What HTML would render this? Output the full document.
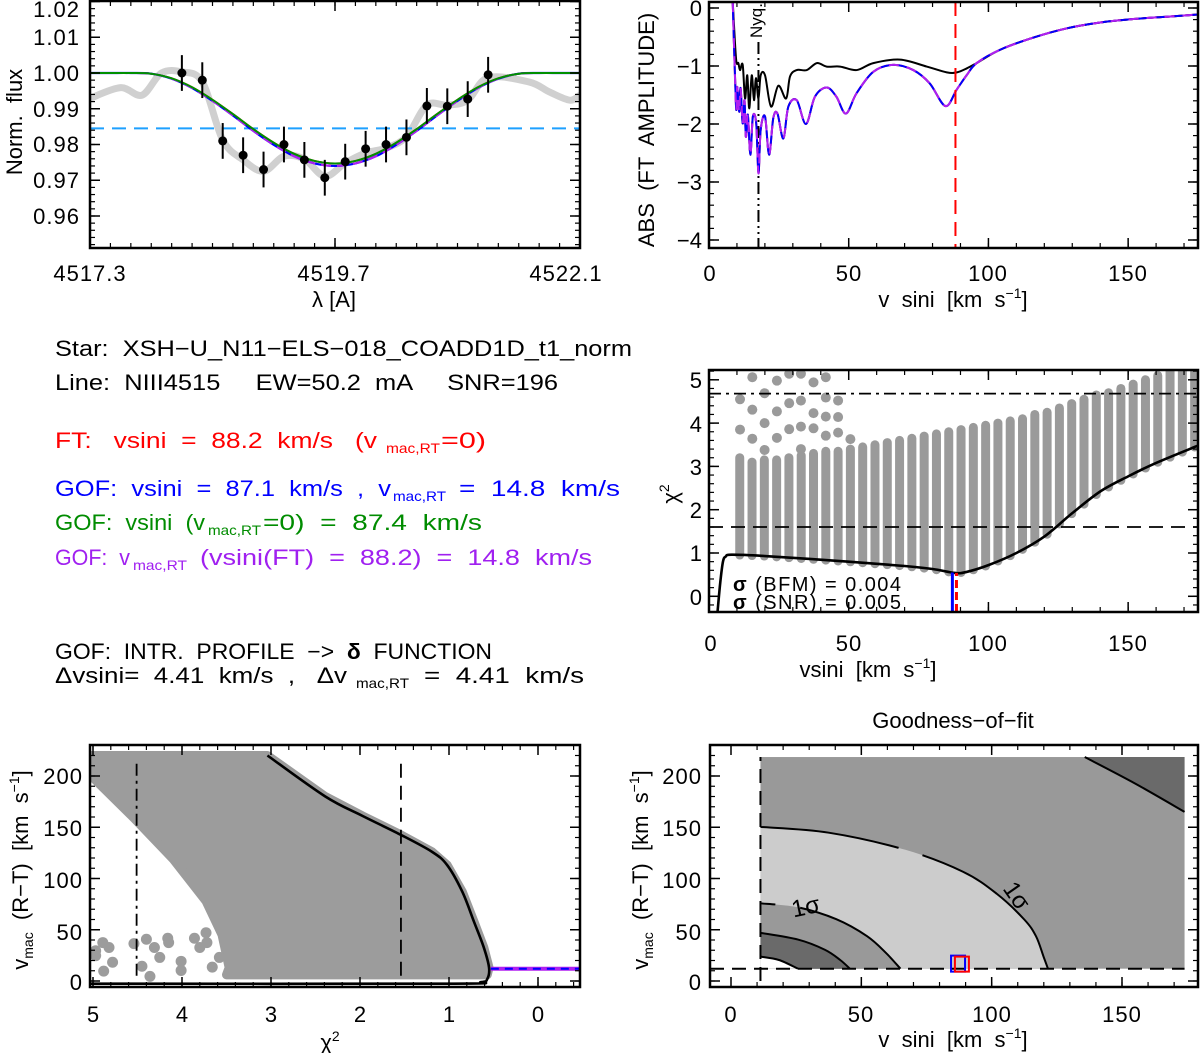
<!DOCTYPE html>
<html><head><meta charset="utf-8"><style>
html,body{margin:0;padding:0;background:#fff;}
svg{display:block;font-family:"Liberation Sans",sans-serif;}
text{font-family:"Liberation Sans","DejaVu Sans",sans-serif;white-space:pre;}
.tk{letter-spacing:1px;}
</style></head><body>
<svg id="fig" width="1200" height="1053" viewBox="0 0 1200 1053" xmlns="http://www.w3.org/2000/svg">
<g id="layer"></g>
<g id="labels" font-size="22" fill="#000">
 <!-- panel 1 -->
 <text class="tk" x="80" y="17" text-anchor="end">1.02</text>
 <text class="tk" x="80" y="45" text-anchor="end">1.01</text>
 <text class="tk" x="80" y="81" text-anchor="end">1.00</text>
 <text class="tk" x="80" y="117" text-anchor="end">0.99</text>
 <text class="tk" x="80" y="152" text-anchor="end">0.98</text>
 <text class="tk" x="80" y="188" text-anchor="end">0.97</text>
 <text class="tk" x="80" y="224" text-anchor="end">0.96</text>
 <text class="tk" x="90" y="281" text-anchor="middle">4517.3</text>
 <text class="tk" x="334" y="281" text-anchor="middle">4519.7</text>
 <text class="tk" x="566" y="281" text-anchor="middle">4522.1</text>
 <text x="334" y="307" text-anchor="middle">λ [A]</text>
 <text transform="translate(22,122) rotate(-90)" text-anchor="middle">Norm.  flux</text>
 <!-- panel 2 -->
 <text x="702" y="16" text-anchor="end">0</text>
 <text x="702" y="74" text-anchor="end">−1</text>
 <text x="702" y="132" text-anchor="end">−2</text>
 <text x="702" y="190" text-anchor="end">−3</text>
 <text x="702" y="248" text-anchor="end">−4</text>
 <text class="tk" x="710" y="281" text-anchor="middle">0</text>
 <text class="tk" x="849" y="281" text-anchor="middle">50</text>
 <text class="tk" x="988" y="281" text-anchor="middle">100</text>
 <text class="tk" x="1128" y="281" text-anchor="middle">150</text>
 <text x="953" y="307" text-anchor="middle">v  sini  [km  s<tspan dy="-9" font-size="14">−1</tspan><tspan dy="9">]</tspan></text>
 <text transform="translate(654,130) rotate(-90)" text-anchor="middle">ABS  (FT  AMPLITUDE)</text>
 <text transform="translate(762,38) rotate(-90)" font-size="17">Nyq.</text>
 <!-- panel 3 -->
 <text x="702" y="388" text-anchor="end">5</text>
 <text x="702" y="432" text-anchor="end">4</text>
 <text x="702" y="475" text-anchor="end">3</text>
 <text x="702" y="518" text-anchor="end">2</text>
 <text x="702" y="561" text-anchor="end">1</text>
 <text x="702" y="605" text-anchor="end">0</text>
 <text class="tk" x="711" y="651" text-anchor="middle">0</text>
 <text class="tk" x="849" y="651" text-anchor="middle">50</text>
 <text class="tk" x="988" y="651" text-anchor="middle">100</text>
 <text class="tk" x="1128" y="651" text-anchor="middle">150</text>
 <text x="868" y="677" text-anchor="middle">vsini  [km  s<tspan dy="-9" font-size="14">−1</tspan><tspan dy="9">]</tspan></text>
 <text transform="translate(678,494) rotate(-90)" text-anchor="middle">χ<tspan dy="-9" font-size="14">2</tspan></text>
 <text x="733" y="591" font-size="20" textLength="168"><tspan font-weight="bold">σ</tspan> (BFM) = 0.004</text>
 <text x="733" y="609" font-size="20" textLength="168"><tspan font-weight="bold">σ</tspan> (SNR) = 0.005</text>
 <!-- info text -->
 <text x="55" y="356" textLength="577" lengthAdjust="spacingAndGlyphs">Star:  XSH−U_N11−ELS−018_COADD1D_t1_norm</text>
 <text x="55" y="390" textLength="503" lengthAdjust="spacingAndGlyphs">Line:  NIII4515     EW=50.2  mA     SNR=196</text>
 <g fill="#ff0000">
  <text x="55" y="448" textLength="322" lengthAdjust="spacingAndGlyphs">FT:   vsini  =  88.2  km/s   (v</text>
  <text x="386" y="453" font-size="14" textLength="54" lengthAdjust="spacingAndGlyphs">mac,RT</text>
  <text x="441" y="448" textLength="45" lengthAdjust="spacingAndGlyphs">=0)</text>
 </g>
 <g fill="#0000ff">
  <text x="55" y="496" textLength="336" lengthAdjust="spacingAndGlyphs">GOF:  vsini  =  87.1  km/s  ,  v</text>
  <text x="393" y="501" font-size="14" textLength="53" lengthAdjust="spacingAndGlyphs">mac,RT</text>
  <text x="459" y="496" textLength="161" lengthAdjust="spacingAndGlyphs">=  14.8  km/s</text>
 </g>
 <g fill="#008c00">
  <text x="55" y="530" textLength="150" lengthAdjust="spacingAndGlyphs">GOF:  vsini  (v</text>
  <text x="208" y="535" font-size="14" textLength="53" lengthAdjust="spacingAndGlyphs">mac,RT</text>
  <text x="263" y="530" textLength="219" lengthAdjust="spacingAndGlyphs">=0)  =  87.4  km/s</text>
 </g>
 <g fill="#a020f0">
  <text x="55" y="565" textLength="75" lengthAdjust="spacingAndGlyphs">GOF:  v</text>
  <text x="133" y="570" font-size="14" textLength="54" lengthAdjust="spacingAndGlyphs">mac,RT</text>
  <text x="200" y="565" textLength="392" lengthAdjust="spacingAndGlyphs">(vsini(FT)  =  88.2)  =  14.8  km/s</text>
 </g>
 <text x="55" y="659" textLength="437" lengthAdjust="spacingAndGlyphs">GOF:  INTR.  PROFILE  −&gt;  <tspan font-weight="bold">δ</tspan>  FUNCTION</text>
 <g>
  <text x="55" y="683" textLength="292" lengthAdjust="spacingAndGlyphs">Δvsini=  4.41  km/s  ,   Δv</text>
  <text x="356" y="688" font-size="14" textLength="53" lengthAdjust="spacingAndGlyphs">mac,RT</text>
  <text x="424" y="683" textLength="160" lengthAdjust="spacingAndGlyphs">=  4.41  km/s</text>
 </g>
 <!-- panel 4 -->
 <text class="tk" x="83" y="784" text-anchor="end">200</text>
 <text class="tk" x="83" y="836" text-anchor="end">150</text>
 <text class="tk" x="83" y="888" text-anchor="end">100</text>
 <text class="tk" x="83" y="940" text-anchor="end">50</text>
 <text class="tk" x="83" y="990" text-anchor="end">0</text>
 <text x="93" y="1022" text-anchor="middle">5</text>
 <text x="182" y="1022" text-anchor="middle">4</text>
 <text x="271" y="1022" text-anchor="middle">3</text>
 <text x="360" y="1022" text-anchor="middle">2</text>
 <text x="449" y="1022" text-anchor="middle">1</text>
 <text x="538" y="1022" text-anchor="middle">0</text>
 <text x="330" y="1050" text-anchor="middle">χ<tspan dy="-9" font-size="14">2</tspan></text>
 <text transform="translate(28,870) rotate(-90)" text-anchor="middle">v<tspan dy="5" font-size="14">mac</tspan><tspan dy="-5">  (R−T)  [km  s</tspan><tspan dy="-9" font-size="14">−1</tspan><tspan dy="9">]</tspan></text>
 <!-- panel 5 -->
 <text x="953" y="728" text-anchor="middle">Goodness−of−fit</text>
 <text class="tk" x="702" y="784" text-anchor="end">200</text>
 <text class="tk" x="702" y="836" text-anchor="end">150</text>
 <text class="tk" x="702" y="888" text-anchor="end">100</text>
 <text class="tk" x="702" y="940" text-anchor="end">50</text>
 <text class="tk" x="702" y="990" text-anchor="end">0</text>
 <text class="tk" x="731" y="1022" text-anchor="middle">0</text>
 <text class="tk" x="861" y="1022" text-anchor="middle">50</text>
 <text class="tk" x="992" y="1022" text-anchor="middle">100</text>
 <text class="tk" x="1122" y="1022" text-anchor="middle">150</text>
 <text x="953" y="1047" text-anchor="middle">v  sini  [km  s<tspan dy="-9" font-size="14">−1</tspan><tspan dy="9">]</tspan></text>
 <text transform="translate(648,870) rotate(-90)" text-anchor="middle">v<tspan dy="5" font-size="14">mac</tspan><tspan dy="-5">  (R−T)  [km  s</tspan><tspan dy="-9" font-size="14">−1</tspan><tspan dy="9">]</tspan></text>
</g>
</svg>
<script>
// ---------- Panel 1 data ----------
const obsLam = [4518.2,4518.4,4518.6,4518.8,4519.0,4519.2,4519.4,4519.6,4519.8,4520.0,4520.2,4520.4,4520.6,4520.8,4521.0,4521.2];
const obsFlux = [1.000,0.998,0.981,0.977,0.973,0.980,0.9757,0.9707,0.9752,0.9788,0.980,0.982,0.9908,0.9907,0.9927,0.9995];
const obsErr = 0.005;
const specLam = [4517.3,4517.6,4517.81,4518.0,4518.2,4518.4,4518.6,4518.8,4519.0,4519.2,4519.4,4519.6,4519.8,4520.0,4520.2,4520.4,4520.6,4520.8,4521.0,4521.2,4521.6,4521.8,4522.0,4522.1];
const specFlux = [0.9929,0.9959,0.9938,1.000,1.0003,0.9975,0.9813,0.9757,0.9725,0.9767,0.9759,0.9711,0.9748,0.9776,0.979,0.9822,0.991,0.991,0.9924,0.9987,0.9975,0.9947,0.9924,0.9938];
const modelLam = [4517.3,4517.5,4517.7,4517.9,4518.1,4518.3,4518.5,4518.7,4518.9,4519.1,4519.3,4519.5,4519.7,4519.9,4520.1,4520.3,4520.5,4520.7,4520.9,4521.1,4521.3,4521.5,4521.7,4521.9,4522.1];
const modelBlue = [1,1,1,0.9998,0.9984,0.9958,0.9922,0.9881,0.9838,0.9799,0.9767,0.9747,0.9740,0.9747,0.9767,0.9799,0.9838,0.9881,0.9922,0.9958,0.9984,0.9998,1,1,1];
const modelGreen = [1,1,1,0.9998,0.9985,0.9960,0.9925,0.9885,0.9843,0.9805,0.9774,0.9754,0.9747,0.9754,0.9774,0.9805,0.9843,0.9885,0.9925,0.9960,0.9985,0.9998,1,1,1];
const noiseLevel = 0.9845;
// ---------- Panel 2 data ----------
const ftBlackV = [8.5,9.67,10.5,11.1,12.06,12.9,13.7,14.4,15.3,16.1,16.8,17.7,18.5,20.05,22.2,24.8,27.6,29.0,31.4,35.0,38.6,42.1,46.9,52.9,58.8,68.4,77.9,85.1,88.7,92.3,95.8,104.2,116.1,128.1,140,151.9,163.9,175.8];
const ftBlackA = [0.1,-0.87,-0.95,-1.07,-0.98,-1.56,-1.16,-1.73,-1.16,-1.59,-1.21,-1.56,-1.16,-1.16,-1.70,-1.34,-1.56,-1.18,-1.07,-1.07,-0.95,-1.01,-1.01,-1.07,-0.95,-0.89,-1.01,-1.11,-1.11,-1.04,-0.95,-0.72,-0.51,-0.35,-0.25,-0.19,-0.15,-0.11];
const ftModelV = [8.5,9.67,10.1,10.8,11.3,12.06,12.7,13.2,13.9,14.8,15.7,16.9,17.7,18.5,20.05,21.5,23.0,24.5,26.6,28.4,31.4,34.7,37.9,42.1,45.6,49.0,52.8,58.8,65.9,73.1,79.0,84.6,88.6,92.2,95.8,104.2,116.1,128.1,140,151.9,163.9,175.8];
const ftModelA = [0.1,-1.70,-1.36,-1.79,-1.38,-1.99,-1.59,-2.22,-1.84,-2.53,-1.87,-1.99,-2.85,-2.10,-1.87,-2.53,-1.90,-1.82,-2.25,-1.70,-1.59,-2.0,-1.53,-1.37,-1.53,-1.82,-1.47,-1.10,-0.98,-1.07,-1.30,-1.69,-1.41,-1.16,-0.95,-0.72,-0.51,-0.35,-0.25,-0.19,-0.15,-0.11];
const nyquistV = 17.7, ftVsini = 88.2;
// ---------- Panel 3 data ----------
const chiCurveV = [3,4,5,6,8,20,50,70,80,88,92,100,110,120,130,140,150,160,175];
const chiCurveC = [-0.4,0.3,0.8,0.92,0.96,0.93,0.80,0.70,0.63,0.54,0.56,0.72,1.0,1.38,1.92,2.42,2.77,3.08,3.48];
const colStart = 11, colStep = 4.4;
const colTops = [3.2,3.1,3.15,3.15,3.2,3.25,3.3,3.35,3.35,3.4,3.45,3.5,3.55,3.6,3.65,3.7,3.75,3.8,3.85,3.9,3.95,4.0,4.05,4.1,4.2,4.25,4.35,4.45,4.55,4.65,4.7,4.8,4.9,5.0,5.1,5.2,5.2,5.2];
const scatV = [15.5,24.3,28.7,32.9,37.4,41.8,11.1,19.9,28.7,32.9,41.8,46.2,15.5,24.3,37.4,41.8,46.2,19.9,11.1,28.7,32.9,37.4,46.2,15.5,24.3,41.8,50.6,19.9,32.9];
const scatC = [5.06,4.98,5.14,5.14,4.94,5.06,4.55,4.69,4.46,4.52,4.59,4.52,4.31,4.27,4.23,4.15,4.14,4.0,3.85,3.86,3.92,3.88,3.78,3.64,3.66,3.71,3.63,3.38,3.4];
const chiLevel1 = 4.68, chiLevel2 = 1.6;
const gofVsini = 87.1;
// ---------- Panel 4 data ----------
const envChi = [5.03,3.04,2.39,1.97,1.55,1.19,1.02,0.85,0.72,0.61,0.55,0.57,0.57,3.5,3.47,3.55,3.73,4.1,4.54,5.03];
const envV = [220,220,180,161,143,126,113,87,58,33,13,6,6,6,13,45,78,119,159,201];
const vmCurveChi = [5.03,1.02,0.64,0.57,0.55,0.61,0.72,0.85,1.02,1.19,1.55,1.97,2.39,3.04];
const vmCurveV = [-2.6,-2.6,-1,2,13,33,58,87,113,126,143,161,180,220];
const bsChi = [4.97,4.89,4.82,4.97,4.78,4.88,4.54,4.45,4.40,4.31,4.36,4.25,4.16,4.15,4.01,4.01,3.86,3.80,3.73,3.72,3.58,3.66];
const bsV = [29.5,37.5,32.7,24.7,18.3,9.6,36.5,14.4,40.7,32.7,4.5,23,41.7,37.5,19.2,10.3,41.7,32.7,47.1,37.5,23,13.5];
const vmacBest = 12;
// ---------- Panel 5 data ----------
const gridV = [11.3,174], gridM = [12,218.5];
const lightV = [11.3,37.5,66.9,89,102,112.5,117,119.9,121.6];
const lightM = [150.3,144.7,128,106.6,85,60,43.7,23.8,12];
const midV = [11.3,25.7,40.4,52.2,59.6,65];
const midM = [75.8,71.9,60.3,43.7,27,12];
const darkV = [11.3,25.7,36,41.9,45.6];
const darkM = [47,40.4,30.5,20.5,12];
const whiteV = [11.3,18.4,25.7];
const whiteM = [23.8,20.5,12];
const trV = [135.7,155,174];
const trM = [218.5,192.7,165];
const bestBlue = [87.1, 15], bestRed = [88.2, 15];

const NS = 'http://www.w3.org/2000/svg';
const layer = document.getElementById('layer');
function el(tag, attrs, parent) {
  const e = document.createElementNS(NS, tag);
  for (const k in attrs) e.setAttribute(k, attrs[k]);
  (parent || layer).appendChild(e);
  return e;
}
function lin(d0, d1, r0, r1) { return v => r0 + (v - d0) * (r1 - r0) / (d1 - d0); }
function smooth(pts) {
  if (pts.length < 2) return '';
  let d = 'M' + pts[0][0].toFixed(2) + ',' + pts[0][1].toFixed(2);
  for (let i = 0; i < pts.length - 1; i++) {
    const p0 = pts[i - 1] || pts[i], p1 = pts[i], p2 = pts[i + 1], p3 = pts[i + 2] || p2;
    const c1 = [p1[0] + (p2[0] - p0[0]) / 6, p1[1] + (p2[1] - p0[1]) / 6];
    const c2 = [p2[0] - (p3[0] - p1[0]) / 6, p2[1] - (p3[1] - p1[1]) / 6];
    d += 'C' + c1[0].toFixed(2) + ',' + c1[1].toFixed(2) + ' ' + c2[0].toFixed(2) + ',' + c2[1].toFixed(2) + ' ' + p2[0].toFixed(2) + ',' + p2[1].toFixed(2);
  }
  return d;
}
function poly(pts) { return pts.map((p, i) => (i ? 'L' : 'M') + p[0].toFixed(2) + ',' + p[1].toFixed(2)).join('') + 'Z'; }
function zip(xs, ys, sx, sy) { return xs.map((x, i) => [sx(x), sy(ys[i])]); }
function clip(id, x0, y0, x1, y1) {
  const cp = el('clipPath', { id: id });
  el('rect', { x: x0, y: y0, width: x1 - x0, height: y1 - y0 }, cp);
}
function frame(name, x0, y0, x1, y1, sx, sy, xs, ys) {
  const g = el('g', { stroke: '#000', fill: 'none' });
  
  
  for (const t of xs.maj) { const x = sx(t); el('line', { x1: x, x2: x, y1: y1, y2: y1 - 10, 'stroke-width': 1.5 }, g); el('line', { x1: x, x2: x, y1: y0, y2: y0 + 10, 'stroke-width': 1.5 }, g); }
  for (const t of xs.min) { const x = sx(t); el('line', { x1: x, x2: x, y1: y1, y2: y1 - 5, 'stroke-width': 1.2 }, g); el('line', { x1: x, x2: x, y1: y0, y2: y0 + 5, 'stroke-width': 1.2 }, g); }
  for (const t of ys.maj) { const y = sy(t); el('line', { y1: y, y2: y, x1: x0, x2: x0 + 10, 'stroke-width': 1.5 }, g); el('line', { y1: y, y2: y, x1: x1, x2: x1 - 10, 'stroke-width': 1.5 }, g); }
  for (const t of ys.min) { const y = sy(t); el('line', { y1: y, y2: y, x1: x0, x2: x0 + 5, 'stroke-width': 1.2 }, g); el('line', { y1: y, y2: y, x1: x1, x2: x1 - 5, 'stroke-width': 1.2 }, g); }
  el('rect', { x: x0, y: y0, width: x1 - x0, height: y1 - y0, 'stroke-width': 2.5 }, g);
}
function range(a, b, s) { const r = []; for (let v = a; v <= b + 1e-9; v += s) r.push(+v.toFixed(6)); return r; }

// ================= Panel 1 =================
(function () {
  const x0 = 90, x1 = 580, y0 = 1, y1 = 248;
  const sx = lin(4517.3, 4522.1, x0, x1), sy = v => 73 - (v - 1) * 3575;
  clip('c1', x0, y0, x1, y1);
  const g = el('g', { 'clip-path': 'url(#c1)' });
  const spec = el('path', { d: smooth(zip(specLam, specFlux, sx, sy)), stroke: '#d0d0d0', 'stroke-width': 7, fill: 'none', 'stroke-linejoin': 'round' }, g);
  
  
  const nl = el('line', { x1: x0, x2: x1, y1: sy(noiseLevel), y2: sy(noiseLevel), stroke: '#1ea0ff', 'stroke-width': 2, 'stroke-dasharray': '14,8' }, g);
  
  
  const mr = el('path', { d: smooth(zip(modelLam, modelGreen, sx, sy)), stroke: '#ff0000', 'stroke-width': 2, fill: 'none' }, g);
  
  
  const mb = el('path', { d: smooth(zip(modelLam, modelBlue, sx, sy)), stroke: '#0000ff', 'stroke-width': 2.2, fill: 'none' }, g);
  
  
  const mm = el('path', { d: smooth(zip(modelLam, modelBlue, sx, sy)), stroke: '#b020f0', 'stroke-width': 2, fill: 'none', 'stroke-dasharray': '10,6' }, g);
  
  
  const mg = el('path', { d: smooth(zip(modelLam, modelGreen, sx, sy)), stroke: '#009000', 'stroke-width': 2, fill: 'none' }, g);
  
  
  obsLam.forEach((l, i) => {
    const e = el('line', { x1: sx(l), x2: sx(l), y1: sy(obsFlux[i] - obsErr), y2: sy(obsFlux[i] + obsErr), stroke: '#000', 'stroke-width': 2 }, g);
    
    
    const c = el('circle', { cx: sx(l), cy: sy(obsFlux[i]), r: 4.5, fill: '#000' }, g);
    
    
  });
  frame('p1', x0, y0, x1, y1, sx, sy, { maj: [4517.3, 4519.7, 4522.1], min: range(4517.5, 4522.0, 0.2) }, { maj: range(0.96, 1.02, 0.01), min: range(0.952, 1.02, 0.002) });
})();

// ================= Panel 2 =================
(function () {
  const x0 = 709, x1 = 1198, y0 = 2, y1 = 248;
  const sx = lin(0, 175, x0, x1), sy = lin(0, -4, 8, 240);
  clip('c2', x0, y0, x1, y1);
  const g = el('g', { 'clip-path': 'url(#c2)' });
  const ny = el('line', { x1: sx(nyquistV), x2: sx(nyquistV), y1: 42, y2: y1, stroke: '#000', 'stroke-width': 2, 'stroke-dasharray': '12,4,2,4,2,4' }, g);
  
  
  const bk = el('path', { d: smooth(zip(ftBlackV, ftBlackA, sx, sy)), stroke: '#000', 'stroke-width': 2, fill: 'none' }, g);
  
  
  const rd = el('path', { d: smooth(zip(ftModelV, ftModelA, sx, sy)), stroke: '#ff0000', 'stroke-width': 2, fill: 'none' }, g);
  
  
  const bl = el('path', { d: smooth(zip(ftModelV, ftModelA, sx, sy)), stroke: '#0000ff', 'stroke-width': 2, fill: 'none' }, g);
  
  
  const mg = el('path', { d: smooth(zip(ftModelV, ftModelA, sx, sy)), stroke: '#b020f0', 'stroke-width': 2, fill: 'none', 'stroke-dasharray': '10,8' }, g);
  
  
  const fv = el('line', { x1: sx(ftVsini), x2: sx(ftVsini), y1: y0, y2: y1, stroke: '#ff0000', 'stroke-width': 2, 'stroke-dasharray': '14,8' }, g);
  
  
  frame('p2', x0, y0, x1, y1, sx, sy, { maj: [0, 50, 100, 150], min: range(10, 170, 10) }, { maj: [0, -1, -2, -3, -4], min: range(-4, 0, 0.2) });
})();

// ================= Panel 3 =================
(function () {
  const x0 = 709, x1 = 1198, y0 = 370, y1 = 612;
  const sx = lin(0, 175, x0, x1), sy = lin(0, 1, 596.3, 553);
  function curveAt(v) {
    for (let i = 0; i < chiCurveV.length - 1; i++) if (v >= chiCurveV[i] && v <= chiCurveV[i + 1]) return chiCurveC[i] + (chiCurveC[i + 1] - chiCurveC[i]) * (v - chiCurveV[i]) / (chiCurveV[i + 1] - chiCurveV[i]);
    return chiCurveC[chiCurveC.length - 1];
  }
  clip('c3', x0, y0, x1, y1);
  const g = el('g', { 'clip-path': 'url(#c3)' });
  colTops.forEach((t, i) => {
    const v = colStart + colStep * i;
    const c = el('line', { x1: sx(v), x2: sx(v), y1: sy(curveAt(v)), y2: sy(t), stroke: '#9a9a9a', 'stroke-width': 9, 'stroke-linecap': 'round' }, g);
    
    
  });
  scatV.forEach((v, i) => {
    const c = el('circle', { cx: sx(v), cy: sy(scatC[i]), r: 5, fill: '#9a9a9a' }, g);
    
    
  });
  const l1 = el('line', { x1: x0, x2: x1, y1: sy(chiLevel1), y2: sy(chiLevel1), stroke: '#000', 'stroke-width': 1.8, 'stroke-dasharray': '12,5,3,5' }, g);
  
  
  const l2 = el('line', { x1: x0, x2: x1, y1: sy(chiLevel2), y2: sy(chiLevel2), stroke: '#000', 'stroke-width': 1.8, 'stroke-dasharray': '14,8' }, g);
  
  
  const cv = el('path', { d: smooth(zip(chiCurveV, chiCurveC, sx, sy)), stroke: '#000', 'stroke-width': 2.6, fill: 'none' }, g);
  
  
  const bv = el('line', { x1: sx(gofVsini), x2: sx(gofVsini), y1: y1, y2: sy(curveAt(gofVsini)), stroke: '#0000ff', 'stroke-width': 3 }, g);
  
  
  const rv = el('line', { x1: sx(ftVsini) + 1, x2: sx(ftVsini) + 1, y1: y1, y2: sy(curveAt(ftVsini)), stroke: '#ff0000', 'stroke-width': 3, 'stroke-dasharray': '8,4' }, g);
  
  
  frame('p3', x0, y0, x1, y1, sx, sy, { maj: [0, 50, 100, 150], min: range(10, 170, 10) }, { maj: [0, 1, 2, 3, 4, 5], min: range(-0.2, 5.2, 0.2) });
})();

// ================= Panel 4 =================
(function () {
  const x0 = 90, x1 = 580, y0 = 745, y1 = 987;
  const sx = lin(5, 0, 93, 538), sy = lin(0, 200, 981, 776);
  clip('c4', x0, y0, x1, y1);
  const g = el('g', { 'clip-path': 'url(#c4)' });
  const env = el('path', { d: poly(zip(envChi, envV, sx, sy)), fill: '#9c9c9c', stroke: '#9c9c9c', 'stroke-width': 9, 'stroke-linejoin': 'round' }, g);
  
  
  bsChi.forEach((c, i) => {
    const d = el('circle', { cx: sx(c), cy: sy(bsV[i]), r: 5.5, fill: '#9c9c9c' }, g);
    
    
  });
  const dd = el('line', { x1: sx(4.51), x2: sx(4.51), y1: sy(212), y2: sy(5), stroke: '#000', 'stroke-width': 1.8, 'stroke-dasharray': '12,5,3,5' }, g);
  
  
  const ds = el('line', { x1: sx(1.54), x2: sx(1.54), y1: sy(212), y2: sy(5), stroke: '#000', 'stroke-width': 1.8, 'stroke-dasharray': '14,8' }, g);
  
  
  const cv = el('path', { d: smooth(zip(vmCurveChi, vmCurveV, sx, sy)), stroke: '#000', 'stroke-width': 2.6, fill: 'none' }, g);
  
  
  const bl = el('line', { x1: sx(0.53), x2: x1, y1: sy(vmacBest), y2: sy(vmacBest), stroke: '#b020f0', 'stroke-width': 4 }, g);
  
  
  const bl2 = el('line', { x1: sx(0.53), x2: x1, y1: sy(vmacBest), y2: sy(vmacBest), stroke: '#0000ff', 'stroke-width': 2, 'stroke-dasharray': '8,6' }, g);
  
  
  frame('p4', x0, y0, x1, y1, sx, sy, { maj: [5, 4, 3, 2, 1, 0], min: range(-0.4, 5, 0.2) }, { maj: [0, 50, 100, 150, 200], min: range(-0, 230, 10) });
})();

// ================= Panel 5 =================
(function () {
  const x0 = 710, x1 = 1198, y0 = 745, y1 = 987;
  const sx = lin(0, 150, 731, 1122), sy = lin(0, 200, 981, 776);
  clip('c5', x0, y0, x1, y1);
  const g = el('g', { 'clip-path': 'url(#c5)' });
  const base = el('rect', { x: sx(gridV[0]), y: sy(gridM[1]), width: sx(gridV[1]) - sx(gridV[0]), height: sy(gridM[0]) - sy(gridM[1]), fill: '#999999' }, g);
  
  
  function region(vs, ms, fill, name) {
    const pts = zip(vs, ms, sx, sy);
    const d = smooth(pts) + 'L' + sx(gridV[0]) + ',' + sy(gridM[0]) + 'Z';
    const p = el('path', { d: d, fill: fill }, g);
    
    
    const l = el('path', { d: smooth(pts), fill: 'none', stroke: '#000', 'stroke-width': 2 }, g);
    
    
    return l;
  }
  const lc = region(lightV, lightM, '#cccccc', 'gof-region-1sigma');
  lc.setAttribute('stroke-dasharray', '140,25,200,30');
  const mc = region(midV, midM, '#999999', 'gof-region-inner');
  mc.setAttribute('stroke-dasharray', '15,25,400');
  region(darkV, darkM, '#6a6a6a', 'gof-region-dark');
  region(whiteV, whiteM, '#ffffff', 'gof-region-white');
  const tr = el('path', { d: smooth(zip(trV, trM, sx, sy)) + 'L' + sx(gridV[1]) + ',' + sy(gridM[1]) + 'Z', fill: '#6a6a6a' }, g);
  
  
  const trl = el('path', { d: smooth(zip(trV, trM, sx, sy)), fill: 'none', stroke: '#000', 'stroke-width': 2 }, g);
  
  
  const hl = el('line', { x1: x0, x2: sx(gridV[1]), y1: sy(vmacBest), y2: sy(vmacBest), stroke: '#000', 'stroke-width': 2, 'stroke-dasharray': '14,8' }, g);
  
  
  const vl = el('line', { x1: sx(gridV[0]), x2: sx(gridV[0]), y1: sy(0), y2: sy(gridM[1]), stroke: '#000', 'stroke-width': 2, 'stroke-dasharray': '14,8' }, g);
  
  
  const bb = el('rect', { x: sx(bestBlue[0]) - 7, y: sy(bestBlue[1]) - 10, width: 14, height: 16, fill: 'none', stroke: '#0000ff', 'stroke-width': 2 }, g);
  
  
  const rb = el('rect', { x: sx(bestRed[0]) - 6, y: sy(bestRed[1]) - 9, width: 14, height: 15, fill: 'none', stroke: '#ff0000', 'stroke-width': 2 }, g);
  
  
  const t1 = el('text', { x: 0, y: 0, 'font-size': 24, transform: 'translate(' + sx(24) + ',' + sy(62) + ') rotate(-12)' }, g);
  t1.textContent = '1σ';
  
  
  const t2 = el('text', { x: 0, y: 0, 'font-size': 24, transform: 'translate(' + sx(104) + ',' + sy(90) + ') rotate(55)' }, g);
  t2.textContent = '1σ';
  
  
  frame('p5', x0, y0, x1, y1, sx, sy, { maj: [0, 50, 100, 150], min: range(10, 170, 10) }, { maj: [0, 50, 100, 150, 200], min: range(0, 230, 10) });
})();
</script>
</body></html>
